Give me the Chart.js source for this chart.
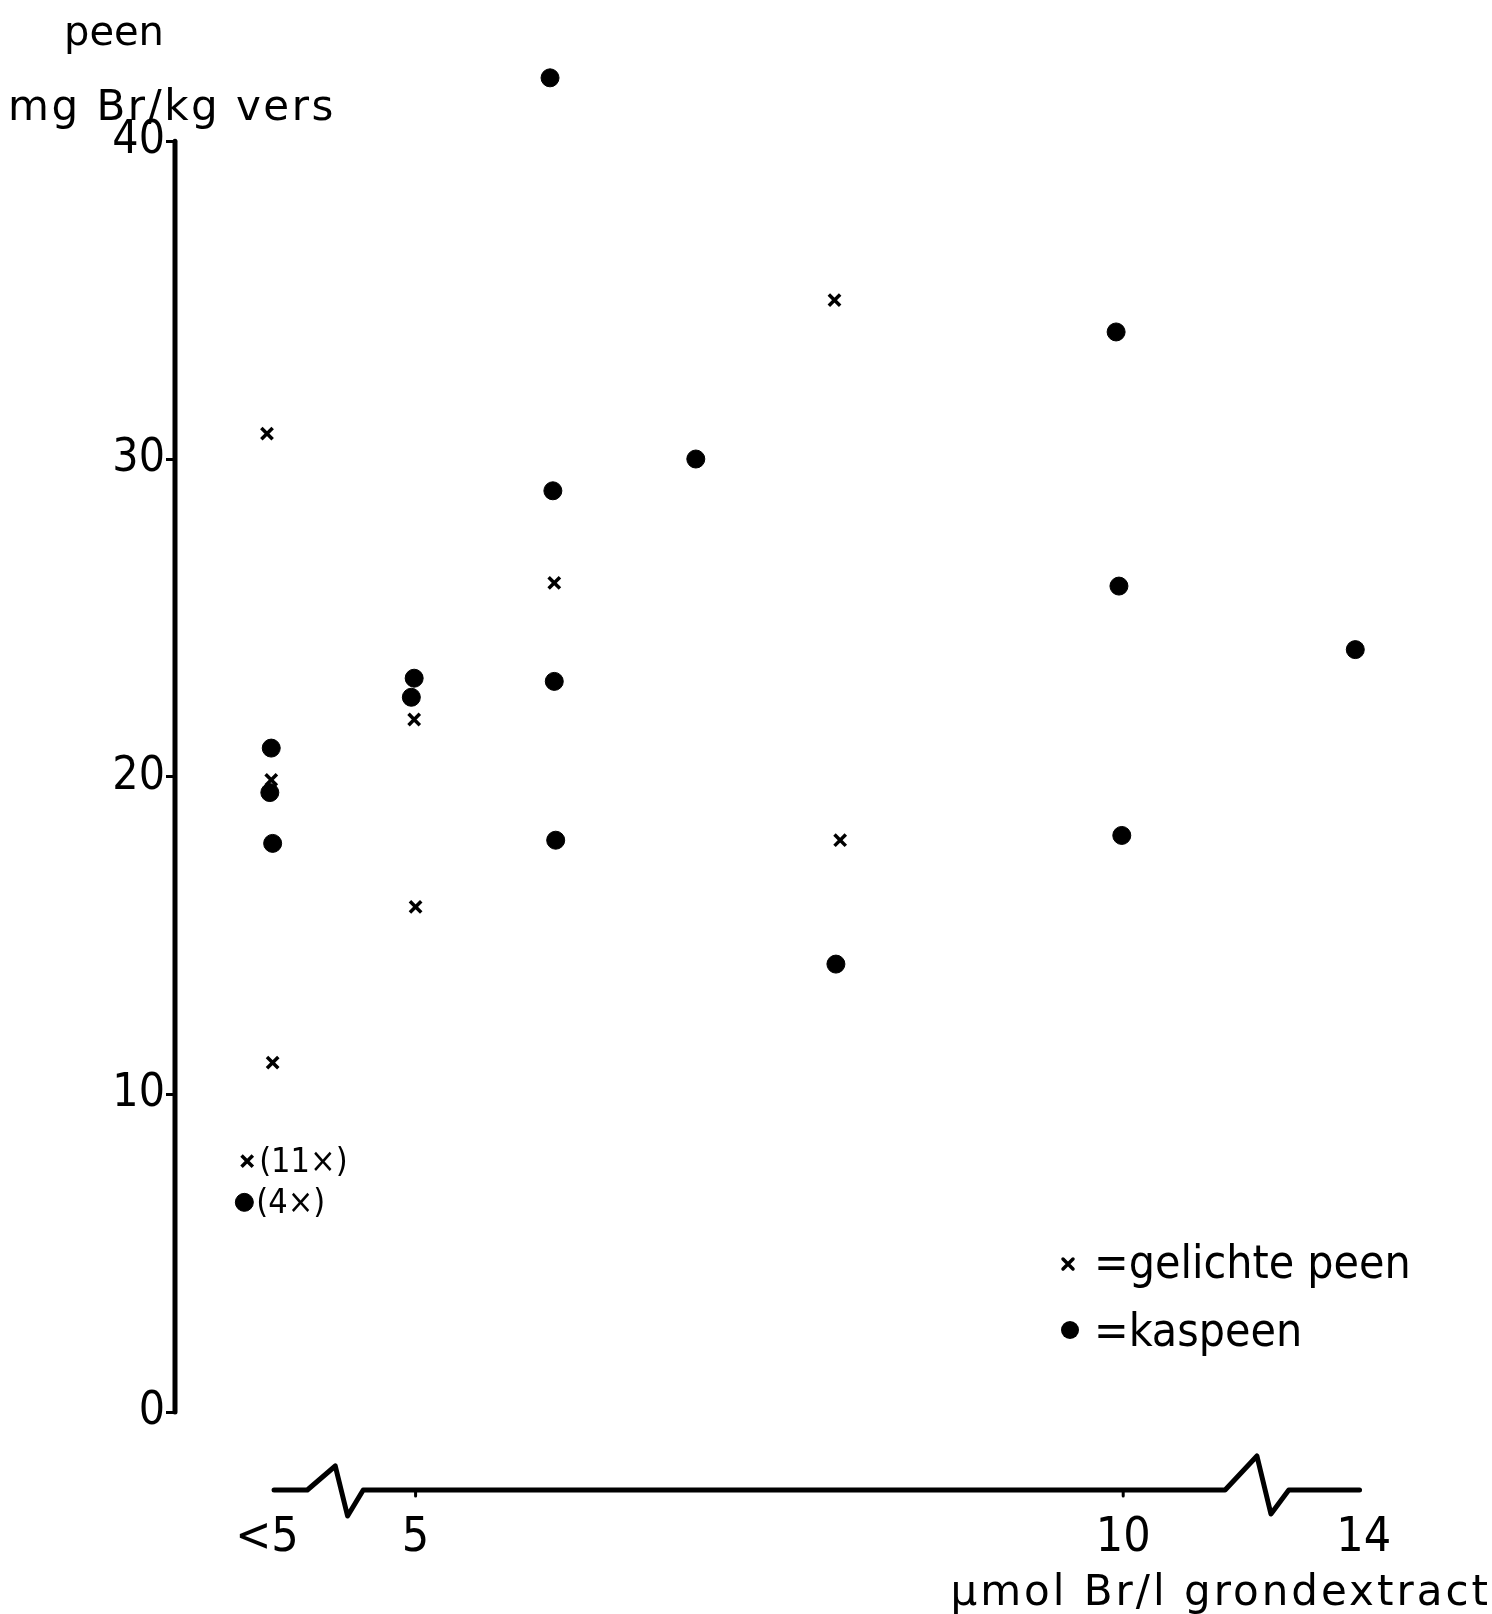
<!DOCTYPE html>
<html>
<head>
<meta charset="utf-8">
<script src="https://cdn.jsdelivr.net/npm/chart.js@4"></script>
<style>
  html, body { margin: 0; padding: 0; background: #fff; overflow: hidden; }
  #wrap { width: 1492px; height: 1614px; }
  canvas { display: block; }
</style>
</head>
<body>
<div id="wrap"><canvas id="peenChart" width="1492" height="1614"></canvas></div>
<script>
// x is given in units of the broken axis: the '<5' group sits near 4, the '14' point near 11.65
const xTickValues = [3.95, 5, 10, 11.7];
const xTickLabels = ['<5', '5', '10', '14'];
const yTickValues = [0, 10, 20, 30, 40];

// x = gelichte peen
const gelichteX = [3.95, 3.98, 3.99, 3.81, 4.99, 5.0, 5.98, 7.96, 8.0];
const gelichteY = [30.8, 19.9, 11.0, 7.9, 21.8, 15.9, 26.1, 35.0, 18.0];

// dot = kaspeen
const kaspeenX = [3.98, 3.97, 3.99, 3.79, 4.99, 4.97, 5.95, 5.97, 5.98, 5.99, 6.98, 7.97, 9.95, 9.97, 9.99, 11.64];
const kaspeenY = [20.9, 19.5, 17.9, 6.6, 23.1, 22.5, 42.0, 29.0, 23.0, 18.0, 30.0, 14.1, 34.0, 26.0, 18.15, 24.0];

// counts written next to the two lowest <5 points
const countNotes = [
  { series: 0, index: 3, text: '(11×)' },
  { series: 1, index: 3, text: '(4×)' }
];

const narrow = '"Liberation Sans Narrow", "DejaVu Sans Condensed", sans-serif';
const wide = '"DejaVu Sans", sans-serif';

function toPoints(xs, ys) {
  return xs.map((x, i) => ({ x: x, y: ys[i] }));
}

// both axes drawn by hand: y stops at 40, x has the two zigzag breaks
const handAxes = {
  id: 'handAxes',
  afterDraw(chart) {
    const ctx = chart.ctx, x = chart.scales.x, y = chart.scales.y;
    const y0 = chart.chartArea.bottom + 78;
    const px = v => x.getPixelForValue(v);
    function zig(a, b, up, down) {
      const pa = px(a), pb = px(b), w = pb - pa;
      ctx.lineTo(pa, y0);
      ctx.lineTo(pa + w * 0.5, y0 - up);
      ctx.lineTo(pa + w * 0.72, y0 + down);
      ctx.lineTo(pb, y0);
    }
    ctx.save();
    ctx.strokeStyle = '#000';
    ctx.lineWidth = 5;
    ctx.lineJoin = 'round';
    ctx.lineCap = 'round';

    const ax = chart.chartArea.left;
    ctx.beginPath();
    ctx.moveTo(ax, y.getPixelForValue(40));
    ctx.lineTo(ax, y.getPixelForValue(0));
    ctx.stroke();

    ctx.beginPath();
    ctx.moveTo(px(4.0), y0);
    zig(4.235, 4.63, 24, 26);
    zig(10.72, 11.17, 34, 24);
    ctx.lineTo(px(11.67), y0);
    ctx.stroke();
    ctx.lineWidth = 3;
    [5, 10].forEach(v => {
      ctx.beginPath();
      ctx.moveTo(px(v), y0);
      ctx.lineTo(px(v), y0 + 6);
      ctx.stroke();
    });
    ctx.restore();
  }
};

const notesAndLegend = {
  id: 'notesAndLegend',
  afterDraw(chart) {
    const ctx = chart.ctx;
    ctx.save();
    ctx.fillStyle = '#000';
    ctx.strokeStyle = '#000';

    // axis titles
    ctx.textAlign = 'left';
    ctx.textBaseline = 'alphabetic';
    ctx.font = '40px ' + wide;
    ctx.fillText('peen', 64, 45);
    ctx.font = '42px ' + wide;
    ctx.letterSpacing = '2.5px';
    ctx.fillText('mg Br/kg vers', 8, 120);
    ctx.letterSpacing = '3px';
    ctx.textAlign = 'right';
    ctx.fillText('µmol Br/l grondextract', 1491, 1605);
    ctx.letterSpacing = '0px';
    ctx.textAlign = 'left';

    // count notes
    ctx.font = '34px ' + narrow;
    ctx.textBaseline = 'middle';
    countNotes.forEach(n => {
      const el = chart.getDatasetMeta(n.series).data[n.index];
      ctx.fillText(n.text, el.x + 12, el.y + 2);
    });

    // legend
    ctx.lineWidth = 3.5;
    ctx.lineCap = 'round';
    const cx = 1068, cy = 1264, r = 5;
    ctx.beginPath();
    ctx.moveTo(cx - r, cy - r); ctx.lineTo(cx + r, cy + r);
    ctx.moveTo(cx + r, cy - r); ctx.lineTo(cx - r, cy + r);
    ctx.stroke();
    ctx.beginPath();
    ctx.arc(1070, 1330, 9, 0, Math.PI * 2);
    ctx.fill();
    ctx.font = '46px ' + narrow;
    ctx.textBaseline = 'alphabetic';
    ctx.fillText('=gelichte peen', 1094, 1278);
    ctx.fillText('=kaspeen', 1094, 1346);
    ctx.restore();
  }
};

new Chart(document.getElementById('peenChart').getContext('2d'), {
  type: 'scatter',
  data: {
    datasets: [
      { label: 'gelichte peen', data: toPoints(gelichteX, gelichteY), pointStyle: 'crossRot', pointRadius: 8, borderWidth: 3.5, borderColor: '#000', backgroundColor: '#000', clip: false },
      { label: 'kaspeen', data: toPoints(kaspeenX, kaspeenY), pointStyle: 'circle', pointRadius: 9, borderWidth: 1, borderColor: '#000', backgroundColor: '#000', clip: false }
    ]
  },
  options: {
    responsive: false,
    animation: false,
    devicePixelRatio: 1,
    layout: { padding: { top: 0, right: 15, left: 0, bottom: 0 } },
    plugins: { legend: { display: false }, tooltip: { enabled: false } },
    scales: {
      x: {
        type: 'linear', min: 3.3, max: 12.5,
        grid: { display: false, drawTicks: true, tickLength: 96, tickColor: 'rgba(0,0,0,0)' },
        border: { display: false },
        afterBuildTicks: s => { s.ticks = xTickValues.map(v => ({ value: v })); },
        afterFit: s => { s.height = 202; },
        ticks: {
          autoSkip: false, maxRotation: 0, padding: 2, color: '#000',
          font: { family: narrow, size: 48 },
          callback: (v, i) => xTickLabels[i]
        }
      },
      y: {
        min: 0, max: 43.55,
        grid: { display: true, drawOnChartArea: false, drawTicks: true, tickLength: 9, tickColor: '#000', tickWidth: 3 },
        border: { display: false },
        afterBuildTicks: s => { s.ticks = yTickValues.map(v => ({ value: v })); },
        afterFit: s => { s.width = 175; },
        ticks: { padding: 1, color: '#000', font: { family: narrow, size: 46 } }
      }
    }
  },
  plugins: [handAxes, notesAndLegend]
});
</script>
</body>
</html>
